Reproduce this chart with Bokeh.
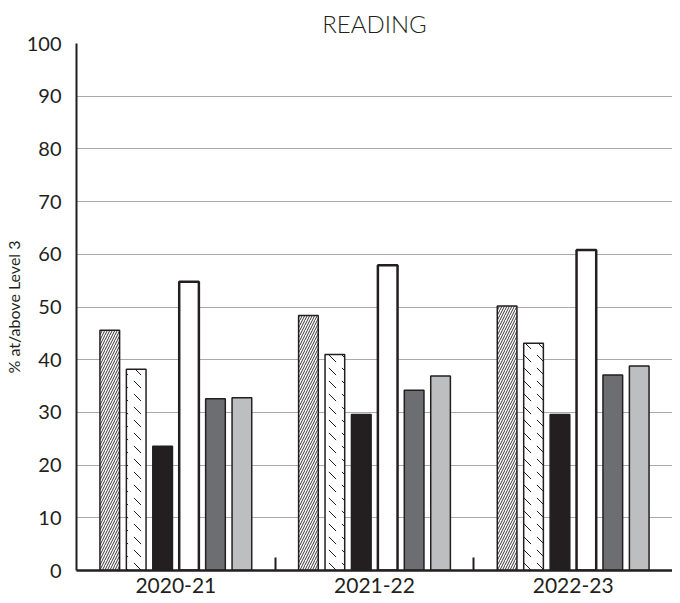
from bokeh.plotting import figure
from bokeh.models import ColumnDataSource, FixedTicker, Range1d
from bokeh.embed import file_html
from bokeh.resources import INLINE

years = ["2020-21", "2021-22", "2022-23"]
series_a = [45.6, 48.4, 50.2]
series_b = [38.2, 41.0, 43.1]
series_c = [23.6, 29.6, 29.6]
series_d = [54.8, 57.9, 60.8]
series_e = [32.6, 34.2, 37.1]
series_f = [32.8, 36.9, 38.8]
y_ticks = [0, 10, 20, 30, 40, 50, 60, 70, 80, 90, 100]

all_series = [series_a, series_b, series_c, series_d, series_e, series_f]
ink = "#231f20"
styles = [
    dict(fill_color="white", hatch_pattern="right_diagonal_line", hatch_color=ink, hatch_scale=5, hatch_weight=0.9, line_width=1.5),
    dict(fill_color="white", hatch_pattern="left_diagonal_dash", hatch_color=ink, hatch_scale=13, hatch_weight=1.0, line_width=1.5),
    dict(fill_color=ink, line_width=1.5),
    dict(fill_color="white", line_width=2.5),
    dict(fill_color="#6d6e71", line_width=1.5),
    dict(fill_color="#bcbec0", line_width=1.5),
]

FONT = "Lato"
p = figure(width=672, height=595, output_backend="svg", toolbar_location=None,
           x_range=Range1d(0, len(years)), y_range=Range1d(0, 100),
           title="READING", min_border_left=71, min_border_right=0,
           min_border_top=40, min_border_bottom=0)
p.outline_line_color = None
p.background_fill_color = "white"
p.border_fill_color = "white"

p.title.align = "center"
p.title.text_font = "'Lato Light', Lato"
p.title.text_font_style = "normal"
p.title.text_font_size = "24px"
p.title.text_color = ink
p.title.standoff = 12

bar_step = 0.133
bar_w = 0.099
n = len(all_series)
for k, (vals, st) in enumerate(zip(all_series, styles)):
    xs = [i + 0.5 + (k - (n - 1) / 2) * bar_step for i in range(len(years))]
    src = ColumnDataSource(dict(x=xs, top=vals))
    p.vbar(x="x", top="top", width=bar_w, bottom=0, source=src, line_color=ink, **st)

# y axis
p.yaxis.ticker = FixedTicker(ticks=y_ticks)
p.yaxis.axis_label = "% at/above Level 3"
p.yaxis.axis_label_text_font = FONT
p.yaxis.axis_label_text_font_style = "normal"
p.yaxis.axis_label_text_font_size = "16px"
p.yaxis.axis_label_text_color = ink
p.yaxis.major_label_text_font = FONT
p.yaxis.major_label_text_font_size = "20px"
p.yaxis.major_label_text_color = ink
p.yaxis.major_tick_line_color = None
p.yaxis.minor_tick_line_color = None
p.yaxis.axis_line_width = 2
p.yaxis.axis_line_color = ink
p.yaxis.major_label_standoff = 9
p.yaxis.axis_label_standoff = 1

# x axis
p.xaxis.ticker = FixedTicker(ticks=[i + 0.5 for i in range(len(years))],
                             minor_ticks=[i for i in range(1, len(years))])
p.xaxis.major_label_overrides = {i + 0.5: y for i, y in enumerate(years)}
p.xaxis.major_tick_line_color = None
p.xaxis.minor_tick_in = 13
p.xaxis.minor_tick_out = 0
p.xaxis.minor_tick_line_width = 2
p.xaxis.minor_tick_line_color = ink
p.xaxis.axis_line_width = 2.5
p.xaxis.axis_line_color = ink
p.xaxis.major_label_text_font = FONT
p.xaxis.major_label_text_font_size = "21px"
p.xaxis.major_label_text_color = ink
p.xaxis.major_label_standoff = 1

p.xgrid.grid_line_color = None
p.ygrid.ticker = FixedTicker(ticks=y_ticks[1:])
p.ygrid.grid_line_color = "#a7a9ac"
p.ygrid.grid_line_width = 1.2
p.ygrid.level = "underlay"

open("out.html", "w").write(file_html(p, INLINE))
